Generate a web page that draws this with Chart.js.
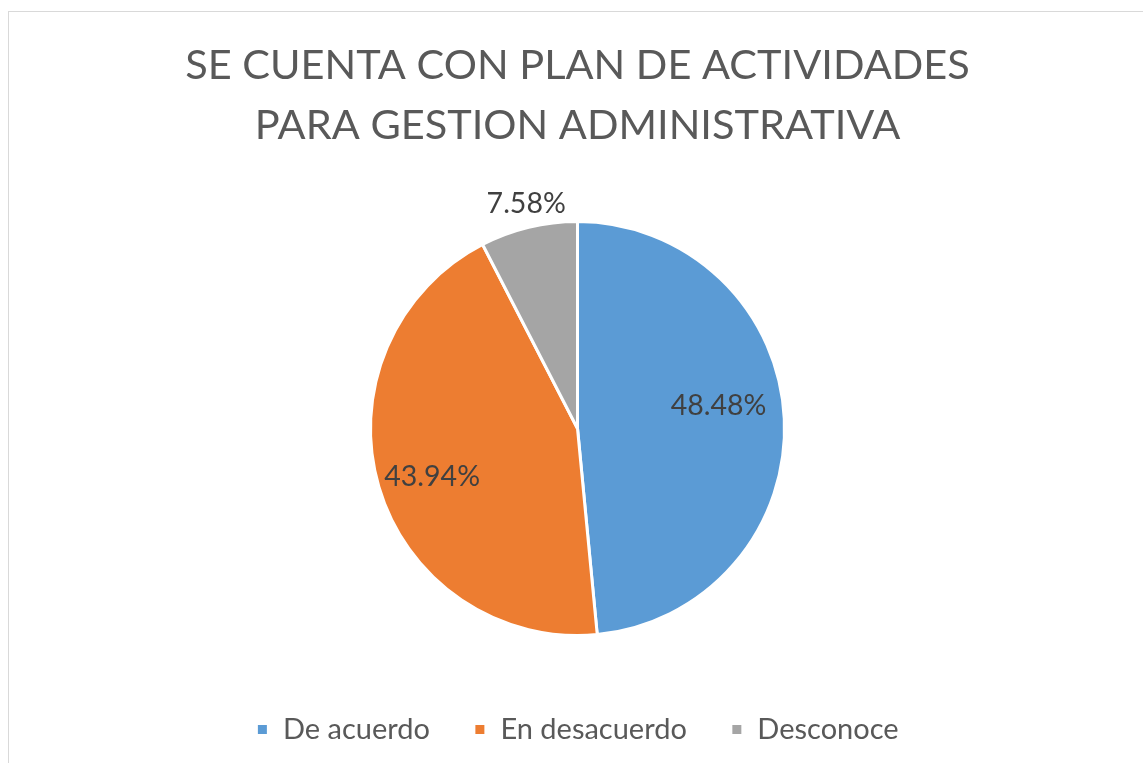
<!DOCTYPE html>
<html>
<head>
<meta charset="utf-8">
<script src="https://cdn.jsdelivr.net/npm/chart.js@4/dist/chart.umd.min.js"></script>
<style>
  html, body { margin: 0; padding: 0; background: #ffffff; overflow: hidden; width: 1143px; height: 763px; }
  #frame { position: absolute; left: 8px; top: 11px; width: 1300px; height: 900px; border-left: 1px solid #d9d9d9; border-top: 1px solid #d9d9d9; }
  #wrap { position: absolute; left: 8px; top: 12px; width: 1139px; height: 742px; }
</style>
</head>
<body>
<div id="frame"></div>
<div id="wrap"><canvas id="c"></canvas></div>
<script>
const titleLines = ['SE CUENTA CON PLAN DE ACTIVIDADES', 'PARA GESTION ADMINISTRATIVA'];
const categories = ['De acuerdo', 'En desacuerdo', 'Desconoce'];
const percentages = [48.48, 43.94, 7.58];
const sliceColors = ['#5B9BD5', '#ED7D31', '#A5A5A5'];

const FONT = "Lato, 'Open Sans', 'Liberation Sans', sans-serif";

// label placement: radial distance (fraction of radius) and small angle tweak (degrees)
const labelPlacement = [
  { r: 0.69, tweak: -6.5 },
  { r: 0.74, tweak: -2.0 },
  { r: 1.115, tweak: 0.8 }
];

const pieLabels = {
  id: 'pieLabels',
  afterDatasetsDraw(chart) {
    const ctx = chart.ctx;
    const meta = chart.getDatasetMeta(0);
    ctx.save();
    ctx.font = '28.5px ' + FONT;
    ctx.fillStyle = '#404040';
    ctx.textAlign = 'center';
    ctx.textBaseline = 'middle';
    meta.data.forEach((arc, i) => {
      const p = arc.getProps(['x', 'y', 'startAngle', 'endAngle', 'outerRadius'], true);
      const pl = labelPlacement[i];
      const mid = (p.startAngle + p.endAngle) / 2 + pl.tweak * Math.PI / 180;
      const d = p.outerRadius * pl.r;
      const x = p.x + Math.cos(mid) * d;
      const y = p.y + Math.sin(mid) * d;
      ctx.fillText(percentages[i].toFixed(2) + '%', x, y);
    });
    ctx.restore();
  }
};

new Chart(document.getElementById('c'), {
  type: 'pie',
  data: {
    labels: categories,
    datasets: [{
      data: percentages,
      backgroundColor: sliceColors,
      borderColor: '#ffffff',
      borderWidth: 3,
      radius: 207
    }]
  },
  options: {
    responsive: true,
    maintainAspectRatio: false,
    animation: false,
    layout: { padding: 0 },
    plugins: {
      title: {
        display: true,
        text: titleLines,
        color: '#595959',
        font: { family: FONT, size: 41.5, weight: 'normal', lineHeight: 60 / 41.5 },
        padding: { top: 24, bottom: 30 }
      },
      legend: {
        position: 'bottom',
        labels: {
          color: '#595959',
          font: { family: FONT, size: 29 },
          boxWidth: 12,
          boxHeight: 12,
          padding: 44
        }
      },
      tooltip: { enabled: false }
    }
  },
  plugins: [pieLabels]
});
</script>
</body>
</html>
